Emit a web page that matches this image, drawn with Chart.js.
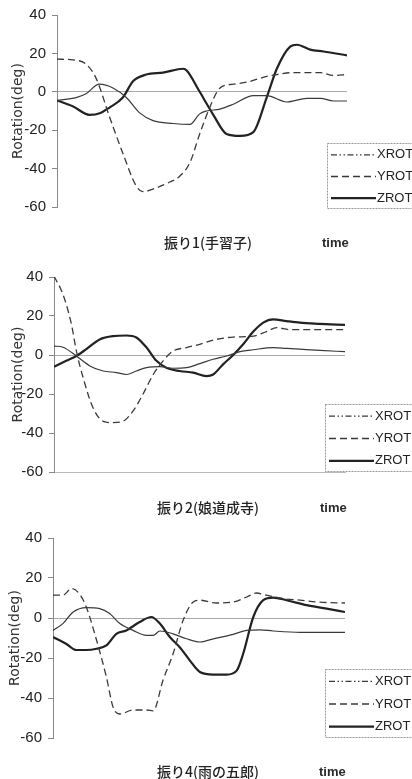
<!DOCTYPE html>
<html lang="ja">
<head>
<meta charset="UTF-8">
<title>Rotation</title>
<script src="https://cdn.jsdelivr.net/npm/chart.js"></script>
<style>
    body { margin: 0; background: #fff; }
    #page { position: relative; width: 412px; height: 779px; overflow: hidden; }
    .box { position: absolute; left: 0; width: 412px; }
    .cap { position: absolute; font-family: "Noto Sans CJK JP", sans-serif; font-size: 14px; font-weight: 500; color: #222; transform: translate(-50%, -50%); white-space: nowrap; }
    .time { position: absolute; font-family: "Liberation Sans", sans-serif; font-weight: bold; font-size: 13px; color: #2a2a2a; transform: translateY(-50%); }
</style>
</head>
<body>
<div id="page">
    <div class="box" style="top:0;height:260px"><canvas id="chart1" width="412" height="260"></canvas></div>
    <div class="box" style="top:260px;height:260px"><canvas id="chart2" width="412" height="260"></canvas></div>
    <div class="box" style="top:520px;height:259px"><canvas id="chart3" width="412" height="259"></canvas></div>
    <div class="cap" style="left:208px;top:242px">振り1(手習子)</div>
    <div class="time" style="left:322px;top:242px">time</div>
    <div class="cap" style="left:208px;top:507px">振り2(娘道成寺)</div>
    <div class="time" style="left:320px;top:507px">time</div>
    <div class="cap" style="left:208px;top:771px">振り4(雨の五郎)</div>
    <div class="time" style="left:319px;top:771px">time</div>
</div>

<script>
// series: [time (% of run), rotation in deg]
var seriesNames = ['XROT', 'YROT', 'ZROT'];
var yTicks = [-60, -40, -20, 0, 20, 40];

// 振り1 (手習子)
var xrot1 = [[0,-4.5],[6.6,-3],[10,-1],[14.6,4],[19.3,2],[23.9,-3],[28.5,-11],[33.1,-15],[40,-16.5],[45.8,-17],[49.2,-11.5],[51.6,-10],[56.2,-9],[60.8,-6.5],[67.7,-2],[72.3,-2],[79.2,-5.3],[86.2,-3.4],[90.8,-3.4],[95.4,-4.8],[100,-4.8]];
var yrot1 = [[0,17],[5.4,16.6],[10,14.4],[13.5,7],[18.1,-13],[22.7,-32],[27.3,-49],[29.6,-52],[34.3,-50],[38.9,-47],[42.3,-44],[45.8,-37],[49.2,-22],[52.7,-8],[56.2,2],[60.8,4],[65.4,5],[72.3,8],[75.8,9],[81.5,10],[86.2,10],[90.8,10],[95.4,8.5],[100,9]];
var zrot1 = [[0,-4.5],[5.4,-7.5],[11.2,-12],[15,-11],[18.1,-8.2],[22.7,-3],[26.2,5.5],[30.8,9],[36.6,10],[43.5,12],[44.8,11],[49.2,0],[53.9,-12],[58.5,-22],[63.1,-23],[67.7,-21],[72.3,-3],[75.8,12],[80.4,23.5],[82.7,24.5],[87.3,22],[91.9,21],[100,19]];

// 振り2 (娘道成寺)
var xrot2 = [[0,4.6],[3.1,4],[7.7,-0.5],[12.3,-5.6],[16.9,-8.2],[21.4,-9],[24.9,-10],[28.3,-8.2],[31.8,-6.5],[36.4,-6],[40.9,-6.8],[45.5,-6.5],[50.1,-4.4],[54.7,-2.2],[59.3,-0.5],[63.9,1.7],[68.5,2.7],[75.3,3.8],[79.9,3.4],[84.5,3],[91.4,2.4],[100,1.7]];
var yrot2 = [[0,40.5],[3.1,31],[6,15.7],[7.7,2],[10,-11.6],[13.4,-27],[16.9,-34],[20.3,-34.7],[23.7,-34],[27.2,-28.7],[30.6,-20],[34.1,-10],[37.5,-3],[40.9,2],[45.5,3.8],[50.1,5.5],[55.8,8],[61.6,9.2],[68.5,9.7],[73,12],[76.5,14],[81.1,13],[90.3,13],[100,13]];
var zrot2 = [[0,-6],[4.2,-3],[7.7,-0.5],[11.1,3],[15.7,8],[20.3,9.7],[24.9,10],[28.3,9],[31.8,3.8],[35.2,-3],[38.6,-6.5],[43.2,-8.2],[47.8,-9],[52.4,-10.8],[54.7,-10],[58.1,-4.8],[61.6,0],[65,5.5],[68.5,12],[71.9,16.6],[75.3,18.3],[79.9,17.4],[84.5,16.6],[91.4,16],[100,15.4]];

// 振り4 (雨の五郎)
var xrot3 = [[0,-6.2],[3.4,-2.8],[6.9,3],[11.4,5.2],[16,4.7],[19.4,2.2],[22.9,-2.8],[27.4,-6.2],[32,-8.7],[34.3,-8.7],[36.6,-6.5],[41.1,-7.9],[45.7,-10.4],[50.3,-12],[54.9,-10.4],[61.7,-8.2],[66.3,-6.2],[70.9,-5.9],[75.4,-6.5],[84.6,-7.2],[100,-7.2]];
var yrot3 = [[0,11.4],[3.4,11.4],[6.3,14.7],[9.1,12],[11.4,5.5],[14.9,-11],[18.3,-29.6],[20.6,-44.7],[22.9,-48],[27.4,-46],[32,-46],[34.3,-46.4],[37.7,-31],[41.1,-18],[44.6,-1],[48,8],[50.3,8.9],[56,7.5],[61.7,8],[66.3,10.5],[69.7,12.5],[73.1,11.4],[78.9,9.7],[84.6,8.9],[90.3,8],[100,7.5]];
var zrot3 = [[0,-9.5],[4.6,-13],[8,-16],[11.4,-16],[14.9,-15.4],[18.3,-13.7],[21.7,-7.9],[25.1,-6.2],[29.7,-2],[33.7,0.5],[36.6,-2.8],[40,-9.5],[43.4,-14.6],[46.9,-21.3],[50.3,-27],[54.9,-28.3],[59.4,-28.3],[62.9,-26.3],[65.1,-18],[68.6,0.5],[72,8.9],[75.4,10.2],[80,8.9],[86.9,6.4],[93.7,4.7],[100,3]];

var lineStyles = [
    { borderWidth: 1.2, borderColor: '#3a3a3a', borderDash: [], legendDash: [6, 2.5, 1.5, 2.5, 1.5, 2.5] },
    { borderWidth: 1.3, borderColor: '#3a3a3a', borderDash: [7, 4], legendDash: [7, 4] },
    { borderWidth: 2.2, borderColor: '#222', borderDash: [], legendDash: [] }
];

function toPoints(arr) {
    return arr.map(p => ({ x: p[0], y: p[1] }));
}

// boxed legend in the lower right, overlapping the plot edge
var boxLegend = {
    id: 'boxLegend',
    afterDraw: function(chart, args, opts) {
        var ctx = chart.ctx;
        ctx.save();
        ctx.fillStyle = '#fff';
        ctx.fillRect(opts.left, opts.top, 90, opts.height);
        ctx.strokeStyle = '#999';
        ctx.lineWidth = 1;
        ctx.setLineDash([2, 1]);
        ctx.strokeRect(opts.left + 0.5, opts.top + 0.5, 90, opts.height);
        ctx.font = '13px "Liberation Sans", sans-serif';
        ctx.textBaseline = 'middle';
        var step = opts.height / 3;
        chart.data.datasets.forEach(function(ds, i) {
            var y = opts.top + step * (i + 0.5) + 1;
            ctx.strokeStyle = ds.borderColor;
            ctx.lineWidth = ds.borderWidth;
            ctx.setLineDash(lineStyles[i].legendDash);
            ctx.beginPath();
            ctx.moveTo(opts.left + 4, y);
            ctx.lineTo(opts.left + 49, y);
            ctx.stroke();
            ctx.fillStyle = '#222';
            ctx.fillText(ds.label, opts.left + 50, y);
        });
        ctx.restore();
    }
};

function makeChart(id, series, geo) {
    var datasets = series.map(function(s, i) {
        return {
            label: seriesNames[i],
            data: toPoints(s),
            borderColor: lineStyles[i].borderColor,
            borderWidth: lineStyles[i].borderWidth,
            borderDash: lineStyles[i].borderDash,
            pointRadius: 0,
            fill: false,
            cubicInterpolationMode: 'monotone'
        };
    });
    var canvas = document.getElementById(id);
    return new Chart(canvas.getContext('2d'), {
        type: 'line',
        data: { datasets: datasets },
        plugins: [boxLegend],
        options: {
            responsive: false,
            animation: false,
            layout: { padding: { top: geo.top, bottom: canvas.height - geo.bottom, right: 412 - geo.right, left: 0 } },
            plugins: {
                legend: { display: false },
                tooltip: { enabled: false },
                boxLegend: { left: geo.legLeft, top: geo.legTop, height: geo.legH }
            },
            scales: {
                x: {
                    type: 'linear', min: 0, max: 100,
                    ticks: { display: false },
                    grid: { display: false },
                    border: { display: geo.xBorder, color: '#bbb', dash: [2, 4] },
                    afterFit: function(s) { s.height = 0; }
                },
                y: {
                    min: -60, max: 40,
                    afterBuildTicks: function(s) { s.ticks = yTicks.map(v => ({ value: v })); },
                    afterFit: function(s) { s.width = geo.left; },
                    ticks: { color: '#222', padding: 6, font: { family: 'Liberation Sans', size: 15 } },
                    grid: {
                        drawOnChartArea: true,
                        color: c => (c.tick && c.tick.value === 0) ? '#aaa' : 'rgba(0,0,0,0)',
                        tickColor: '#888',
                        tickLength: 5,
                        lineWidth: 1
                    },
                    border: { display: true, color: '#888' },
                    title: {
                        display: true,
                        text: 'Rotation(deg)',
                        color: '#333',
                        padding: { top: geo.titlePad, bottom: 0 },
                        font: { family: 'DejaVu Sans', size: 14 }
                    }
                }
            }
        }
    });
}

makeChart('chart1', [xrot1, yrot1, zrot1], { left: 57, right: 347, top: 13, bottom: 207, legLeft: 327, legTop: 143, legH: 65, xBorder: false, titlePad: 10 });
makeChart('chart2', [xrot2, yrot2, zrot2], { left: 54, right: 345, top: 17, bottom: 212, legLeft: 325, legTop: 144, legH: 67, xBorder: true, titlePad: 10 });
makeChart('chart3', [xrot3, yrot3, zrot3], { left: 53, right: 345, top: 18, bottom: 218, legLeft: 325, legTop: 149, legH: 68, xBorder: false, titlePad: 7 });
</script>
</body>
</html>
